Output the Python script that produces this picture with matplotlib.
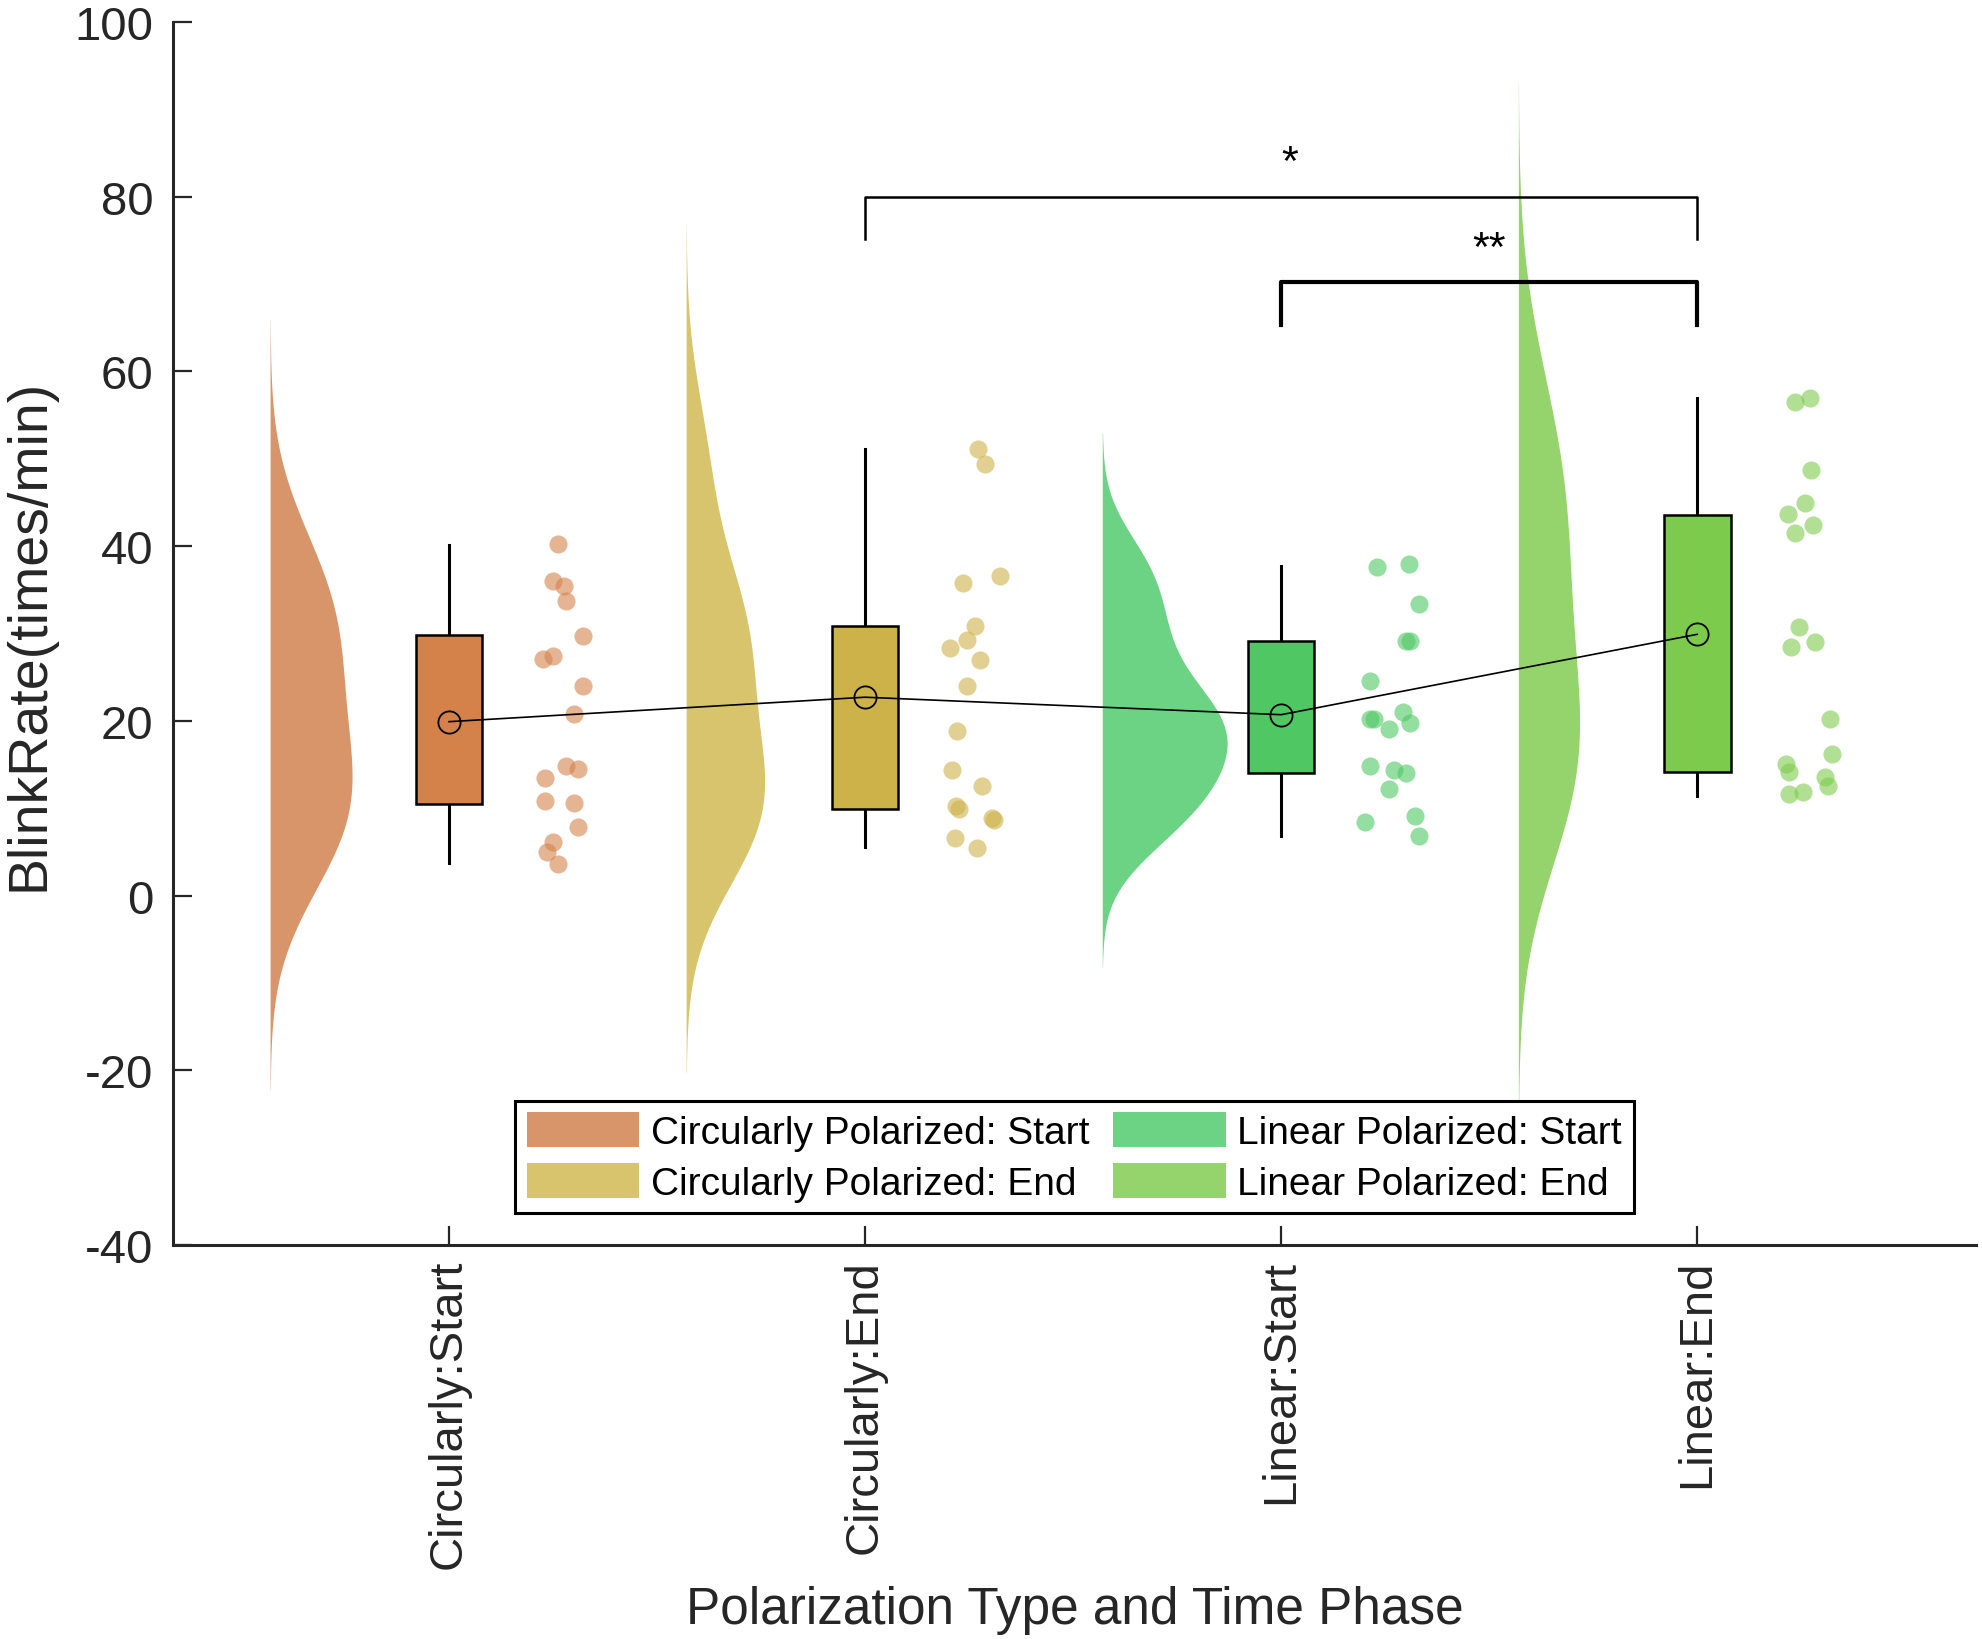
import numpy as np
import matplotlib.pyplot as plt
from matplotlib.patches import Patch

plt.rcParams['font.family'] = ['Liberation Sans', 'DejaVu Sans']
plt.rcParams['axes.unicode_minus'] = False

# Groups
groups = ["Circularly:Start", "Circularly:End", "Linear:Start", "Linear:End"]
legend_names = ["Circularly Polarized: Start", "Circularly Polarized: End",
                "Linear Polarized: Start", "Linear Polarized: End"]

# individual blink rates (times/min) and their horizontal jitter
cs_vals = [40.2, 36.0, 35.4, 33.7, 29.7, 27.1, 27.4, 24.0, 20.8,
           14.8, 14.5, 13.5, 10.8, 10.6, 7.8, 6.1, 5.0, 3.6]
cs_jit = [0.263, 0.25, 0.277, 0.282, 0.323, 0.227, 0.25, 0.323, 0.30,
          0.282, 0.309, 0.231, 0.231, 0.30, 0.309, 0.25, 0.236, 0.262]

ce_vals = [51.1, 49.4, 36.6, 35.8, 30.9, 29.3, 28.3, 27.0, 24.0,
           18.8, 14.4, 12.5, 10.3, 9.9, 8.9, 8.6, 6.6, 5.5]
ce_jit = [0.272, 0.288, 0.325, 0.236, 0.264, 0.244, 0.203, 0.275, 0.246,
          0.222, 0.208, 0.280, 0.219, 0.225, 0.304, 0.31, 0.216, 0.270]

ls_vals = [37.55, 37.9, 33.35, 29.15, 29.15, 24.5, 21.0, 20.26, 20.26,
           19.7, 19.1, 14.8, 14.4, 14.0, 12.2, 9.05, 8.4, 6.8]
ls_jit = [0.231, 0.308, 0.332, 0.31, 0.30, 0.214, 0.292, 0.214, 0.222,
          0.31, 0.26, 0.213, 0.272, 0.30, 0.26, 0.322, 0.202, 0.33]

le_vals = [57.0, 56.5, 48.7, 44.9, 43.65, 42.4, 41.55, 30.7, 29.0,
           28.5, 20.2, 16.2, 15.0, 14.1, 13.6, 12.5, 11.8, 11.6]
le_jit = [0.271, 0.235, 0.273, 0.259, 0.219, 0.279, 0.235, 0.245, 0.283,
          0.225, 0.319, 0.323, 0.213, 0.221, 0.307, 0.315, 0.254, 0.221]

all_vals = [cs_vals, ce_vals, ls_vals, le_vals]
all_jit = [cs_jit, ce_jit, ls_jit, le_jit]

# box statistics
q1 = [10.5, 9.9, 14.0, 14.1]
med = [17.8, 21.2, 19.9, 28.8]
q3 = [29.8, 30.9, 29.1, 43.5]
wlo = [3.7, 5.6, 6.8, 11.4]
whi = [40.1, 51.1, 37.7, 56.9]
means = [19.9, 22.7, 20.7, 29.9]

# kernel bandwidths for the half violins
kde_bw = [8.6, 8.6, 5.0, 12.0]

violin_colors = ["#D9956A", "#D8C46C", "#6DD384", "#95D36C"]
box_colors = ["#D4824A", "#CDB24A", "#4FC864", "#7DCB4C"]

ink = "#262626"

fig = plt.figure(figsize=(19.83, 16.40), dpi=100)
ax = fig.add_axes([0.0873, 0.2402, 0.909, 0.7459])

pos = np.arange(1, 5)

# half violins (density estimate)
dens = []
grids = []
for vals, bw in zip(all_vals, kde_bw):
    v = np.array(vals)
    g = np.linspace(v.min() - 3 * bw, v.max() + 3 * bw, 200)
    d = np.exp(-0.5 * ((g[:, None] - v[None, :]) / bw) ** 2).sum(axis=1)
    d = d / (len(v) * bw * np.sqrt(2 * np.pi))
    dens.append(d)
    grids.append(g)
scale = 0.30 / max(d.max() for d in dens)
for i in range(4):
    base = pos[i] - 0.43
    ax.fill_betweenx(grids[i], base, base + dens[i] * scale,
                     color=violin_colors[i], lw=0, zorder=1)

# boxes
stats = []
for i in range(4):
    stats.append(dict(q1=q1[i], med=med[i], q3=q3[i],
                      whislo=wlo[i], whishi=whi[i], label=groups[i]))
bp = ax.bxp(stats, positions=pos, widths=0.16, patch_artist=True,
            showfliers=False, showcaps=False,
            boxprops=dict(edgecolor="k", linewidth=1.8),
            medianprops=dict(color="k", linewidth=3.5),
            whiskerprops=dict(color="k", linewidth=2.2))
for patch, c in zip(bp["boxes"], box_colors):
    patch.set_facecolor(c)
    patch.set_zorder(3)

# raw points
for i in range(4):
    ax.scatter(pos[i] + np.array(all_jit[i]), all_vals[i], s=170,
               color=box_colors[i], alpha=0.6, lw=0, zorder=2)

# mean line
ax.plot(pos, means, color="k", lw=1.2, marker="o", ms=16,
        mfc="none", mec="k", mew=1.3, zorder=5)

# significance brackets
ax.plot([2, 2, 4, 4], [75.1, 80, 80, 75.1], color="k", lw=1.8, zorder=6)
ax.text(3.02, 81.5, "*", ha="center", va="bottom", fontsize=31, color="k")
ax.plot([3, 3, 4, 4], [65.3, 70.2, 70.2, 65.3], color="k", lw=3.0, zorder=6)
ax.text(3.5, 71.7, "**", ha="center", va="bottom", fontsize=31, color="k")

ax.set_xlim(0.337, 4.669)
ax.set_ylim(-40, 100)
ax.set_yticks(np.arange(-40, 101, 20))
ax.set_xticks(pos)
ax.set_xticklabels(groups, rotation=90)

for s in ["top", "right"]:
    ax.spines[s].set_visible(False)
for s in ["left", "bottom"]:
    ax.spines[s].set_linewidth(2.2)
    ax.spines[s].set_color(ink)
ax.tick_params(direction="in", length=14, width=1.6, colors=ink,
               labelsize=34, pad=14)
ax.tick_params(axis="x", pad=10)

ax.set_xlabel("Polarization Type and Time Phase", fontsize=37, color=ink, labelpad=12)
ax.set_ylabel("BlinkRate(times/min)", fontsize=40, color=ink, labelpad=14)

handles = [Patch(facecolor=c, edgecolor="none") for c in violin_colors]
leg = ax.legend(handles, legend_names, ncol=2, loc="lower center",
                bbox_to_anchor=(0.5, 0.026), fontsize=28, frameon=True,
                fancybox=False, edgecolor="k", framealpha=1,
                handlelength=2.9, handleheight=1.0, handletextpad=0.3,
                columnspacing=0.6, labelspacing=0.3, borderpad=0.3,
                borderaxespad=0)
leg.get_frame().set_linewidth(2.2)

fig.savefig("out.png", dpi=100)
